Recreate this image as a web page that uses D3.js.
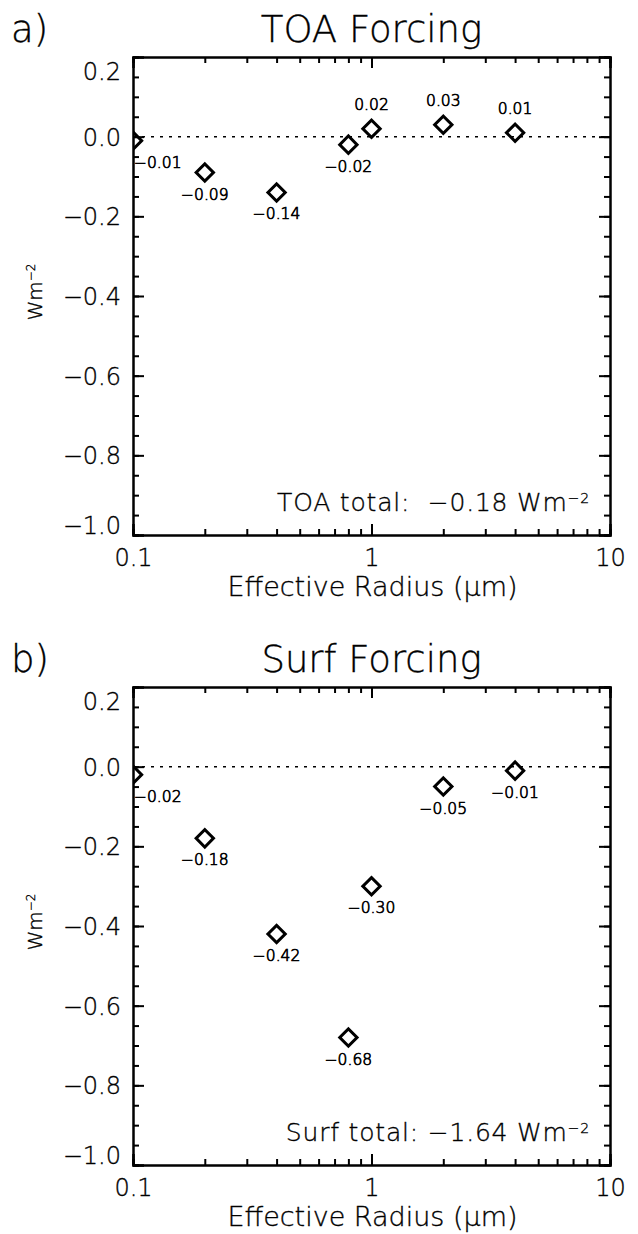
<!DOCTYPE html>
<html>
<head>
<meta charset="utf-8">
<script src="https://cdn.jsdelivr.net/npm/d3@7"></script>
<style>
  body { margin: 0; background: #fff; }
  svg text { font-family: "DejaVu Sans", sans-serif; font-weight: 200; fill: #000; stroke: #000; stroke-width: 0.35px; }
  svg text.val { stroke-width: 0.7px; }
</style>
</head>
<body>
<div id="chart"></div>
<script>
// effective radius (um) of each size bin
var radii = [0.1, 0.2, 0.4, 0.8, 1, 2, 4];
// forcing per bin, W m-2
var toaForcing = [-0.01, -0.09, -0.14, -0.02, 0.02, 0.03, 0.01];
var surfForcing = [-0.02, -0.18, -0.42, -0.68, -0.30, -0.05, -0.01];

var yTickValues = [0.2, 0.0, -0.2, -0.4, -0.6, -0.8, -1.0];
var xTickValues = [0.1, 1, 10];
var xTickLabels = ["0.1", "1", "10"];

var panelLetters = ["a)", "b)"];
var panelTitles = ["TOA Forcing", "Surf Forcing"];
var totalNames = ["TOA total:  ", "Surf total: "];
var totalValues = [-0.18, -1.64];

var width = 638,
    height = 1234;

var margin = {left: 133, top: 57},
    plotW = 477,
    plotH = 478,
    panelStep = 630;

var svg = d3.select("#chart")
    .append("svg")
    .attr("width", width)
    .attr("height", height);

var x = d3.scaleLog().domain([0.1, 10]).range([0, plotW]);
var y = d3.scaleLinear().domain([-1.0, 0.2]).range([plotH, 0]);

var fmt = function (v) { return d3.format(".2f")(v).replace("-", "\u2212"); };
var fmtTick = function (v) { return d3.format(".1f")(v).replace("-", "\u2212"); };

var yMinor = d3.range(-1.0, 0.2001, 0.05);

var diamond = d3.symbol().type(d3.symbolSquare).size(150);

[toaForcing, surfForcing].forEach(function (values, p) {
    var g = svg.append("g")
        .attr("transform", "translate(" + margin.left + "," + (margin.top + p * panelStep) + ")");

    var pts = radii.map(function (r, i) { return {r: r, v: values[i]}; });

    // clip so the first marker is cut by the axis
    g.append("clipPath").attr("id", "clip" + p)
        .append("rect").attr("width", plotW).attr("height", plotH);

    // zero line
    g.append("line")
        .attr("x1", 0).attr("x2", plotW)
        .attr("y1", y(0)).attr("y2", y(0))
        .attr("stroke", "#000")
        .attr("stroke-width", 1.5)
        .attr("stroke-dasharray", "3,6");

    // ticks: minor then major, all four sides pointing inward
    function tickAxis(axis, tf, vals, len) {
        var a = g.append("g").attr("transform", tf)
            .call(axis.tickValues(vals).tickSize(len).tickFormat(""));
        a.selectAll("line").attr("stroke-width", 2);
        a.select(".domain").attr("stroke-width", 2);
        return a;
    }
    tickAxis(d3.axisRight(y), "translate(0,0)", yMinor, 6);
    tickAxis(d3.axisRight(y), "translate(0,0)", yTickValues, 11);
    tickAxis(d3.axisLeft(y), "translate(" + plotW + ",0)", yMinor, 6);
    tickAxis(d3.axisLeft(y), "translate(" + plotW + ",0)", yTickValues, 11);
    tickAxis(d3.axisTop(x), "translate(0," + plotH + ")", x.ticks(), 6);
    tickAxis(d3.axisTop(x), "translate(0," + plotH + ")", xTickValues, 11);
    tickAxis(d3.axisBottom(x), "translate(0,0)", x.ticks(), 6);
    tickAxis(d3.axisBottom(x), "translate(0,0)", xTickValues, 11);

    // y tick labels
    var yl = g.append("g")
        .call(d3.axisLeft(y).tickValues(yTickValues).tickSize(0).tickPadding(12).tickFormat(fmtTick));
    yl.select(".domain").remove();
    yl.selectAll("text")
        .attr("font-size", 24)
        .attr("dy", function (d) { return d === 0.2 ? "0.95em" : d === -1.0 ? "-0.05em" : "0.35em"; });

    // x tick labels
    var xl = g.append("g").attr("transform", "translate(0," + plotH + ")")
        .call(d3.axisBottom(x).tickValues(xTickValues).tickSize(0).tickPadding(14)
            .tickFormat(function (d, i) { return xTickLabels[i]; }));
    xl.select(".domain").remove();
    xl.selectAll("text").attr("font-size", 24);

    // markers
    g.append("g").attr("clip-path", "url(#clip" + p + ")")
        .selectAll("path")
        .data(pts)
        .enter().append("path")
        .attr("d", diamond)
        .attr("transform", function (d) {
            return "translate(" + x(d.r) + "," + y(d.v) + ") rotate(45)";
        })
        .attr("fill", "none")
        .attr("stroke", "#000")
        .attr("stroke-width", 3);

    // value labels
    g.selectAll(".val")
        .data(pts)
        .enter().append("text")
        .attr("class", "val")
        .attr("x", function (d, i) { return i === 0 ? x(d.r) + 1 : x(d.r); })
        .attr("y", function (d) { return d.v > 0 ? y(d.v) - 19 : y(d.v) + 27; })
        .attr("text-anchor", function (d, i) { return i === 0 ? "start" : "middle"; })
        .attr("font-size", 15.5)
        .text(function (d) { return fmt(d.v); });

    // title and panel letter
    g.append("text")
        .attr("x", plotW / 2).attr("y", -15)
        .attr("text-anchor", "middle")
        .attr("font-size", 37)
        .text(panelTitles[p]);
    g.append("text")
        .attr("x", -122).attr("y", -15)
        .attr("font-size", 37)
        .text(panelLetters[p]);

    // axis titles
    g.append("text")
        .attr("x", plotW / 2 + 1).attr("y", plotH + 61)
        .attr("text-anchor", "middle")
        .attr("font-size", 27)
        .text("Effective Radius (\u03bcm)");

    var yt = g.append("text")
        .attr("transform", "translate(-91," + (plotH / 2 - 4) + ") rotate(-90)")
        .attr("text-anchor", "middle")
        .attr("font-size", 20);
    yt.append("tspan").text("Wm");
    yt.append("tspan").attr("font-size", 12).attr("dy", "-0.6em").text("\u22122");

    // total annotation
    var tt = g.append("text")
        .attr("x", plotW - 20).attr("y", plotH - 24)
        .attr("text-anchor", "end")
        .attr("font-size", 25)
        .attr("letter-spacing", 0.8)
        .attr("xml:space", "preserve");
    tt.append("tspan").text(totalNames[p] + fmt(totalValues[p]) + " Wm");
    tt.append("tspan").attr("font-size", 14).attr("dy", "-0.6em").text("\u22122");
});
</script>
</body>
</html>
